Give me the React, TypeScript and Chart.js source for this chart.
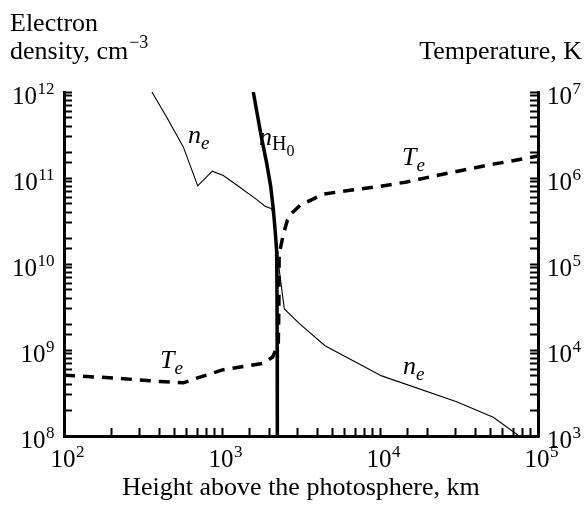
import React, { useEffect, useRef } from 'react';
import { Chart, registerables } from 'chart.js';

Chart.register(...registerables);

// ---------- data ----------
// Electron density n_e (thin solid line), cm^-3 vs height, km
const neHeights = [360, 447, 569, 702, 868, 1019, 1239, 1660, 1872, 2063, 2150, 2230, 2270, 2480, 3116, 4487, 10250, 30550, 52100, 76000];
const neValues = [1e12, 5.1e11, 2.3e11, 8.1e10, 1.2e11, 1.07e11, 8.3e10, 5.6e10, 4.7e10, 4.4e10, 3.2e10, 1.6e10, 1.05e10, 3.0e9, 2.0e9, 1.12e9, 5.0e8, 2.5e8, 1.65e8, 1e8];

// Neutral hydrogen density n_H0 (thick solid line)
const nhHeights = [1578, 1757, 1918, 2033, 2113, 2180, 2218, 2228, 2235, 2240];
const nhValues = [1e12, 3.3e11, 1.48e11, 8e10, 4.3e10, 2.2e10, 1.4e10, 5e9, 1e9, 1e8];

// Electron temperature T_e (dashed line), K
const teHeights = [100, 215, 405, 569, 692, 1019, 1825, 2091, 2270, 2290, 2300, 2443, 2590, 2763, 3116, 4375, 6457, 10000, 14750, 21700, 47300, 100000];
const teValues = [5.1e3, 4.7e3, 4.3e3, 4.15e3, 4.7e3, 5.9e3, 7.0e3, 8.3e3, 1.15e4, 3e4, 1.3e5, 2.2e5, 3.2e5, 3.9e5, 4.8e5, 6.5e5, 7.2e5, 8.0e5, 9.0e5, 1.05e6, 1.4e6, 1.8e6];

// axis ranges
const xRange = [100, 100000];
const densityRange = [1e8, 1e12];
const tempRange = [1e3, 1e7];

// texts
const xTitle = 'Height above the photosphere, km';
const leftCaption = ['Electron', 'density, cm'];
const leftCaptionSup = '\u22123';
const rightCaption = 'Temperature, K';
const tickBase = '10';

// curve labels: anchor in data units (height, value on given axis)
const labelBases = ['n', 'n', 'T', 'T', 'n'];
const labelSubs = ['e', 'H', 'e', 'e', 'e'];
const labelSubSubs = ['', '0', '', '', ''];
const labelHeights = [610, 1715, 13770, 405, 14000];
const labelValues = [2.56e11, 2.42e11, 1.42e6, 6.2e3, 5.2e8];
const labelAxes = ['y', 'y', 'y2', 'y2', 'y'];

// ---------- helpers ----------
const FONT = '"Liberation Serif", "Times New Roman", Times, serif';

const exponentOf = (v: number) => {
  const e = Math.log10(v);
  const r = Math.round(e);
  return Math.abs(e - r) < 1e-6 ? r : null;
};

const pts = (xs: number[], ys: number[]) => xs.map((x, i) => ({ x, y: ys[i] }));

const drawPowerLabels = (ctx: CanvasRenderingContext2D, scale: any, kind: 'bottom' | 'left' | 'right') => {
  const baseFont = `25px ${FONT}`;
  const supFont = `17px ${FONT}`;
  for (const t of scale.ticks) {
    const e = exponentOf(t.value);
    if (e === null) continue;
    const p = scale.getPixelForValue(t.value);
    const sup = String(e);
    ctx.font = baseFont;
    const bw = ctx.measureText(tickBase).width;
    ctx.font = supFont;
    const sw = ctx.measureText(sup).width;
    let bx: number;
    let by: number;
    if (kind === 'bottom') {
      bx = p - bw / 2 - 1;
      by = scale.top + 31;
    } else if (kind === 'left') {
      bx = scale.right - 10 - sw - bw;
      by = p + 12;
    } else {
      bx = scale.left + 9;
      by = p + 12;
    }
    ctx.font = baseFont;
    ctx.fillText(tickBase, bx, by);
    ctx.font = supFont;
    ctx.fillText(sup, bx + bw + 0.5, by - 10);
  }
};

const textPlugin = {
  id: 'annotText',
  afterDraw(chart: any) {
    const ctx = chart.ctx as CanvasRenderingContext2D;
    ctx.save();
    ctx.fillStyle = '#000';
    ctx.textBaseline = 'alphabetic';
    ctx.textAlign = 'left';

    // axis tick labels 10^n
    drawPowerLabels(ctx, chart.scales.x, 'bottom');
    drawPowerLabels(ctx, chart.scales.y, 'left');
    drawPowerLabels(ctx, chart.scales.y2, 'right');

    // axis captions
    ctx.font = `26px ${FONT}`;
    ctx.fillText(leftCaption[0], 10, 31);
    ctx.fillText(leftCaption[1], 10, 59);
    const w = ctx.measureText(leftCaption[1]).width;
    ctx.font = `18px ${FONT}`;
    ctx.fillText(leftCaptionSup, 10 + w + 1, 48);
    ctx.font = `26px ${FONT}`;
    ctx.textAlign = 'right';
    ctx.fillText(rightCaption, 582, 59);
    ctx.textAlign = 'left';

    // curve labels
    for (let i = 0; i < labelBases.length; i++) {
      const px = chart.scales.x.getPixelForValue(labelHeights[i]);
      const py = chart.scales[labelAxes[i]].getPixelForValue(labelValues[i]);
      ctx.font = `italic 26px ${FONT}`;
      ctx.fillText(labelBases[i], px, py);
      let cx = px + ctx.measureText(labelBases[i]).width;
      if (labelSubSubs[i]) {
        ctx.font = `20px ${FONT}`;
        ctx.fillText(labelSubs[i], cx, py + 5);
        cx += ctx.measureText(labelSubs[i]).width;
        ctx.font = `16px ${FONT}`;
        ctx.fillText(labelSubSubs[i], cx, py + 11);
      } else {
        ctx.font = `italic 19px ${FONT}`;
        ctx.fillText(labelSubs[i], cx, py + 6);
      }
    }
    ctx.restore();
  },
};

const axisCommon = () => ({
  border: { display: true, color: '#000', width: 3 },
  grid: {
    display: true,
    drawOnChartArea: false,
    drawTicks: true,
    tickLength: -8,
    tickWidth: 2,
    tickColor: '#000',
  },
  ticks: {
    display: false,
    autoSkip: false,
    maxRotation: 0,
    minRotation: 0,
  },
});

export default function App() {
  const ref = useRef<HTMLCanvasElement>(null);
  useEffect(() => {
    const chart = new Chart(ref.current as HTMLCanvasElement, {
      type: 'line',
      data: {
        datasets: [
          {
            label: 'n_H0',
            data: pts(nhHeights, nhValues),
            yAxisID: 'y',
            borderColor: '#000',
            borderWidth: 3.5,
            pointRadius: 0,
            fill: false,
            tension: 0,
          },
          {
            label: 'n_e',
            data: pts(neHeights, neValues),
            yAxisID: 'y',
            borderColor: '#000',
            borderWidth: 1.1,
            pointRadius: 0,
            fill: false,
            tension: 0,
          },
          {
            label: 'T_e',
            data: pts(teHeights, teValues),
            yAxisID: 'y2',
            borderColor: '#000',
            borderWidth: 3.5,
            borderDash: [11, 8],
            pointRadius: 0,
            fill: false,
            tension: 0,
          },
        ],
      } as any,
      options: {
        responsive: false,
        animation: false,
        events: [],
        layout: { padding: { top: 92, left: 0, right: 0, bottom: 0 } },
        plugins: {
          legend: { display: false },
          tooltip: { enabled: false },
          title: { display: false },
        },
        scales: {
          x: {
            type: 'logarithmic',
            position: 'bottom',
            min: xRange[0],
            max: xRange[1],
            ...axisCommon(),
            title: {
              display: true,
              text: xTitle,
              color: '#000',
              font: { family: FONT, size: 26 },
              padding: { top: 0, bottom: 1 },
            },
            afterFit: (s: any) => {
              s.height = 69;
            },
          },
          y: {
            type: 'logarithmic',
            position: 'left',
            min: densityRange[0],
            max: densityRange[1],
            ...axisCommon(),
            afterFit: (s: any) => {
              s.width = 64;
            },
          },
          y2: {
            type: 'logarithmic',
            position: 'right',
            min: tempRange[0],
            max: tempRange[1],
            ...axisCommon(),
            afterFit: (s: any) => {
              s.width = 46;
            },
          },
        },
      } as any,
      plugins: [textPlugin],
    });
    return () => chart.destroy();
  }, []);
  return (
    <div style={{ position: 'absolute', left: 0, top: 0, width: 584, height: 505, background: '#fff' }}>
      <canvas ref={ref} width={584} height={505} style={{ display: 'block', width: 584, height: 505 }} />
    </div>
  );
}
